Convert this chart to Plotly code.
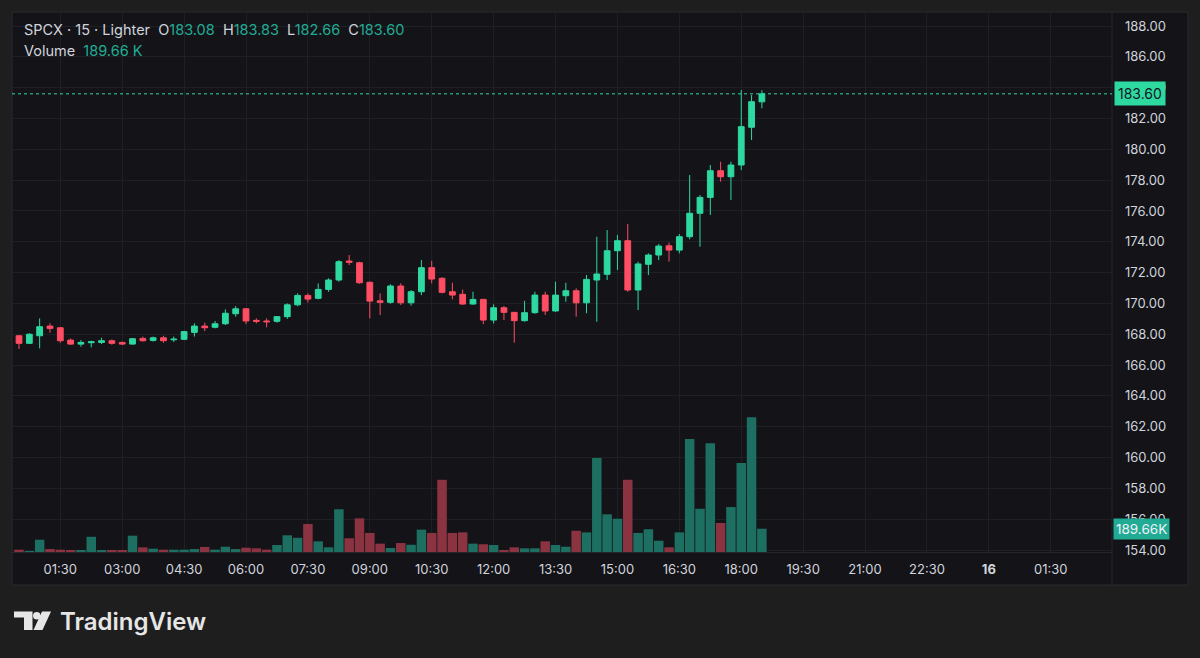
import pandas as pd
import plotly.graph_objects as go

# 15 minute candles, SPCX on Lighter, from 00:30 on the 15th
opens = [167.90, 167.41, 167.90, 168.53, 168.42, 167.62, 167.36, 167.45, 167.47, 167.58,
         167.47, 167.36, 167.73, 167.60, 167.77, 167.64, 167.67, 168.12, 168.53, 168.45,
         168.68, 169.33, 169.65, 168.90, 168.86, 168.84, 169.14, 169.91, 170.52, 170.33,
         170.91, 171.52, 172.75, 172.64, 171.37, 170.17, 170.07, 171.13, 170.04, 170.76,
         172.32, 171.63, 170.76, 170.59, 169.96, 170.26, 168.92, 169.72, 169.42, 168.88,
         169.40, 170.54, 169.51, 170.50, 170.82, 170.04, 171.52, 171.89, 173.42, 174.07,
         170.87, 172.54, 173.14, 173.74, 173.46, 174.33, 175.85, 176.88, 178.61, 178.22,
         178.98, 181.43, 183.08]
highs = [167.95, 168.07, 169.03, 168.71, 168.45, 167.72, 167.62, 167.58, 167.77, 167.66,
         167.52, 167.75, 167.85, 167.85, 167.90, 167.85, 168.22, 168.71, 168.75, 168.86,
         169.61, 169.83, 169.70, 169.03, 169.03, 169.18, 170.00, 170.65, 170.65, 171.30,
         171.63, 172.81, 173.14, 172.70, 171.42, 170.65, 171.24, 171.30, 170.87, 172.81,
         172.77, 171.70, 171.34, 170.90, 170.76, 170.30, 169.94, 169.83, 169.45, 170.17,
         170.76, 170.76, 171.41, 171.34, 170.98, 171.84, 174.33, 174.76, 174.44, 175.15,
         172.71, 173.25, 173.86, 173.94, 174.50, 178.33, 177.03, 178.98, 179.19, 179.19,
         183.85, 183.52, 183.83]
lows = [167.04, 167.37, 167.08, 168.10, 167.45, 167.30, 167.19, 167.15, 167.36, 167.32,
        167.30, 167.33, 167.52, 167.52, 167.45, 167.50, 167.62, 167.85, 168.20, 168.38,
        168.60, 169.14, 168.66, 168.70, 168.45, 168.75, 169.00, 169.82, 170.06, 170.26,
        170.76, 171.41, 172.49, 171.28, 169.03, 169.25, 169.98, 169.90, 169.85, 170.54,
        171.30, 170.65, 170.26, 169.90, 169.92, 168.66, 168.70, 168.92, 167.45, 168.82,
        169.33, 169.25, 169.46, 170.11, 169.14, 169.36, 168.81, 171.52, 172.17, 170.76,
        169.57, 171.84, 172.81, 172.71, 173.25, 174.16, 173.68, 175.74, 177.90, 176.71,
        178.66, 180.60, 182.66]
closes = [167.41, 168.00, 168.49, 168.38, 167.58, 167.36, 167.47, 167.51, 167.58, 167.41,
          167.36, 167.71, 167.58, 167.77, 167.58, 167.68, 168.17, 168.53, 168.42, 168.68,
          169.36, 169.65, 168.86, 168.84, 168.81, 169.14, 169.91, 170.52, 170.28, 170.91,
          171.52, 172.71, 172.67, 171.34, 170.15, 170.07, 171.13, 170.04, 170.76, 172.32,
          171.58, 170.72, 170.54, 169.96, 170.26, 168.92, 169.72, 169.42, 168.88, 169.40,
          170.54, 169.51, 170.54, 170.82, 170.04, 171.56, 171.91, 173.42, 174.07, 170.87,
          172.56, 173.14, 173.72, 173.46, 174.33, 175.85, 176.88, 178.61, 178.22, 178.98,
          181.47, 183.09, 183.60]
# volume in thousands
volumes = [19, 6, 100, 24, 19, 16, 14, 124, 11, 16,
           16, 133, 38, 27, 19, 19, 19, 24, 41, 19,
           43, 24, 35, 30, 19, 57, 136, 116, 228, 87,
           38, 348, 112, 274, 155, 68, 33, 73, 59, 182,
           155, 588, 155, 160, 68, 63, 57, 14, 38, 30,
           30, 87, 57, 43, 173, 160, 765, 307, 271, 588,
           155, 185, 92, 38, 160, 920, 352, 885, 236, 366,
           724, 1096, 189.66]

tick_times = ["2025-01-15 01:30", "2025-01-15 03:00", "2025-01-15 04:30", "2025-01-15 06:00",
              "2025-01-15 07:30", "2025-01-15 09:00", "2025-01-15 10:30", "2025-01-15 12:00",
              "2025-01-15 13:30", "2025-01-15 15:00", "2025-01-15 16:30", "2025-01-15 18:00",
              "2025-01-15 19:30", "2025-01-15 21:00", "2025-01-15 22:30", "2025-01-16 00:00",
              "2025-01-16 01:30"]
tick_labels = ["01:30", "03:00", "04:30", "06:00", "07:30", "09:00", "10:30", "12:00",
               "13:30", "15:00", "16:30", "18:00", "19:30", "21:00", "22:30", "<b>16</b>",
               "01:30"]

times = pd.date_range("2025-01-15 00:30", periods=len(opens), freq="15min")

UP = "#2ed9a0"
DOWN = "#ff4d63"
VOL_UP = "#1d6f61"
VOL_DOWN = "#8c3342"
TEAL = "#22ab94"
TEXT = "#d1d4dc"
PANEL = "#131318"
GRID = "#1f2025"

vol_colors = [VOL_UP if c >= o else VOL_DOWN for o, c in zip(opens, closes)]

# plot area in pixels: x 12..1112, y 12..552
def px(x):
    return (x - 12) / 1100.0


def py(y):
    return (552 - y) / 540.0


fig = go.Figure()

fig.add_trace(go.Bar(
    x=times, y=volumes, marker=dict(color=vol_colors, line=dict(width=0)),
    yaxis="y2", hoverinfo="skip", showlegend=False
))

fig.add_trace(go.Candlestick(
    x=times, open=opens, high=highs, low=lows, close=closes,
    increasing=dict(line=dict(color=UP, width=1), fillcolor=UP),
    decreasing=dict(line=dict(color=DOWN, width=1), fillcolor=DOWN),
    whiskerwidth=0, hoverinfo="skip", showlegend=False
))

last_close = closes[-1]
last_vol = volumes[-1]

shapes = [
    # chart panel
    dict(type="rect", xref="paper", yref="paper", x0=px(12), x1=px(1188), y0=py(585), y1=py(12),
         fillcolor=PANEL, line=dict(color="#2a2a2e", width=1), layer="below"),
    # price axis separator
    dict(type="line", xref="paper", yref="paper", x0=1, x1=1, y0=py(585), y1=1,
         line=dict(color="#26272c", width=1)),
    # last price line
    dict(type="line", xref="paper", yref="y", x0=0, x1=1, y0=last_close, y1=last_close,
         line=dict(color=UP, width=1, dash="dot")),
    # TradingView logo mark
    dict(type="path", xref="paper", yref="paper",
         path=f"M {px(14)} {py(611.5)} L {px(32.5)} {py(611.5)} L {px(32.5)} {py(630)} "
              f"L {px(24)} {py(630)} L {px(24)} {py(617.5)} L {px(14)} {py(617.5)} Z",
         fillcolor="#e6e6e6", line=dict(width=0)),
    dict(type="circle", xref="paper", yref="paper",
         x0=px(33), x1=px(40.5), y0=py(619.5), y1=py(612),
         fillcolor="#e6e6e6", line=dict(width=0)),
    dict(type="path", xref="paper", yref="paper",
         path=f"M {px(42)} {py(611.5)} L {px(51)} {py(611.5)} L {px(42.5)} {py(630)} "
              f"L {px(33.5)} {py(630)} Z",
         fillcolor="#e6e6e6", line=dict(width=0)),
]

g = f"<span style='color:{TEAL}'>"
header = (f"SPCX · 15 · Lighter  O{g}{opens[-1]:.2f}</span>  H{g}{highs[-1]:.2f}</span>  "
          f"L{g}{lows[-1]:.2f}</span>  C{g}{closes[-1]:.2f}</span>")

annotations = [
    dict(xref="paper", yref="paper", x=px(22), y=py(30), xanchor="left", yanchor="middle",
         text=header, showarrow=False, font=dict(family="Inter", size=14.5, color=TEXT)),
    dict(xref="paper", yref="paper", x=px(22), y=py(50), xanchor="left", yanchor="middle",
         text=f"Volume  {g}{last_vol:.2f} K</span>", showarrow=False,
         font=dict(family="Inter", size=14.5, color=TEXT)),
    dict(xref="paper", yref="y", x=px(1114), y=last_close, xanchor="left", yanchor="middle",
         text=f"{last_close:.2f}", showarrow=False, bgcolor=UP, borderpad=3,
         font=dict(family="Inter", size=14, color="#131722")),
    dict(xref="paper", yref="y2", x=px(1113), y=last_vol, xanchor="left", yanchor="middle",
         text=f"{last_vol:.2f}K", showarrow=False, bgcolor=TEAL, borderpad=2,
         font=dict(family="Inter", size=13.5, color="#f0f3fa")),
    dict(xref="paper", yref="paper", x=px(58), y=py(621), xanchor="left", yanchor="middle",
         text="TradingView", showarrow=False,
         font=dict(family="Inter", size=24, color="#e6e6e6", weight=600)),
]

fig.update_layout(
    width=1200, height=658,
    margin=dict(l=12, r=88, t=12, b=106),
    paper_bgcolor="#1e1e1e",
    plot_bgcolor=PANEL,
    bargap=0.08,
    boxgap=0.2,
    hovermode=False,
    showlegend=False,
    shapes=shapes,
    annotations=annotations,
    xaxis=dict(
        type="date",
        range=["2025-01-15 00:19:48", "2025-01-16 02:59:00"],
        tickvals=tick_times, ticktext=tick_labels,
        showgrid=True, gridcolor=GRID, gridwidth=1,
        showline=True, linecolor="#26272c", linewidth=1,
        ticks="", ticklabelstandoff=5,
        tickfont=dict(family="Inter", size=13, color=TEXT),
        rangeslider=dict(visible=False),
        zeroline=False, fixedrange=True,
    ),
    yaxis=dict(
        side="right",
        range=[153.87, 188.91],
        dtick=2, tick0=154, tickformat=".2f",
        showgrid=True, gridcolor=GRID, gridwidth=1,
        ticks="", ticklabelstandoff=12,
        tickfont=dict(family="Inter", size=13, color=TEXT),
        zeroline=False, fixedrange=True,
    ),
    yaxis2=dict(
        overlaying="y", range=[0, 4396], visible=False,
        showgrid=False, zeroline=False, fixedrange=True,
    ),
)

fig.write_html("out.html", config={"displayModeBar": False},
               post_script="document.body.style.margin='0';"
                           "document.body.style.background='#1e1e1e';")
